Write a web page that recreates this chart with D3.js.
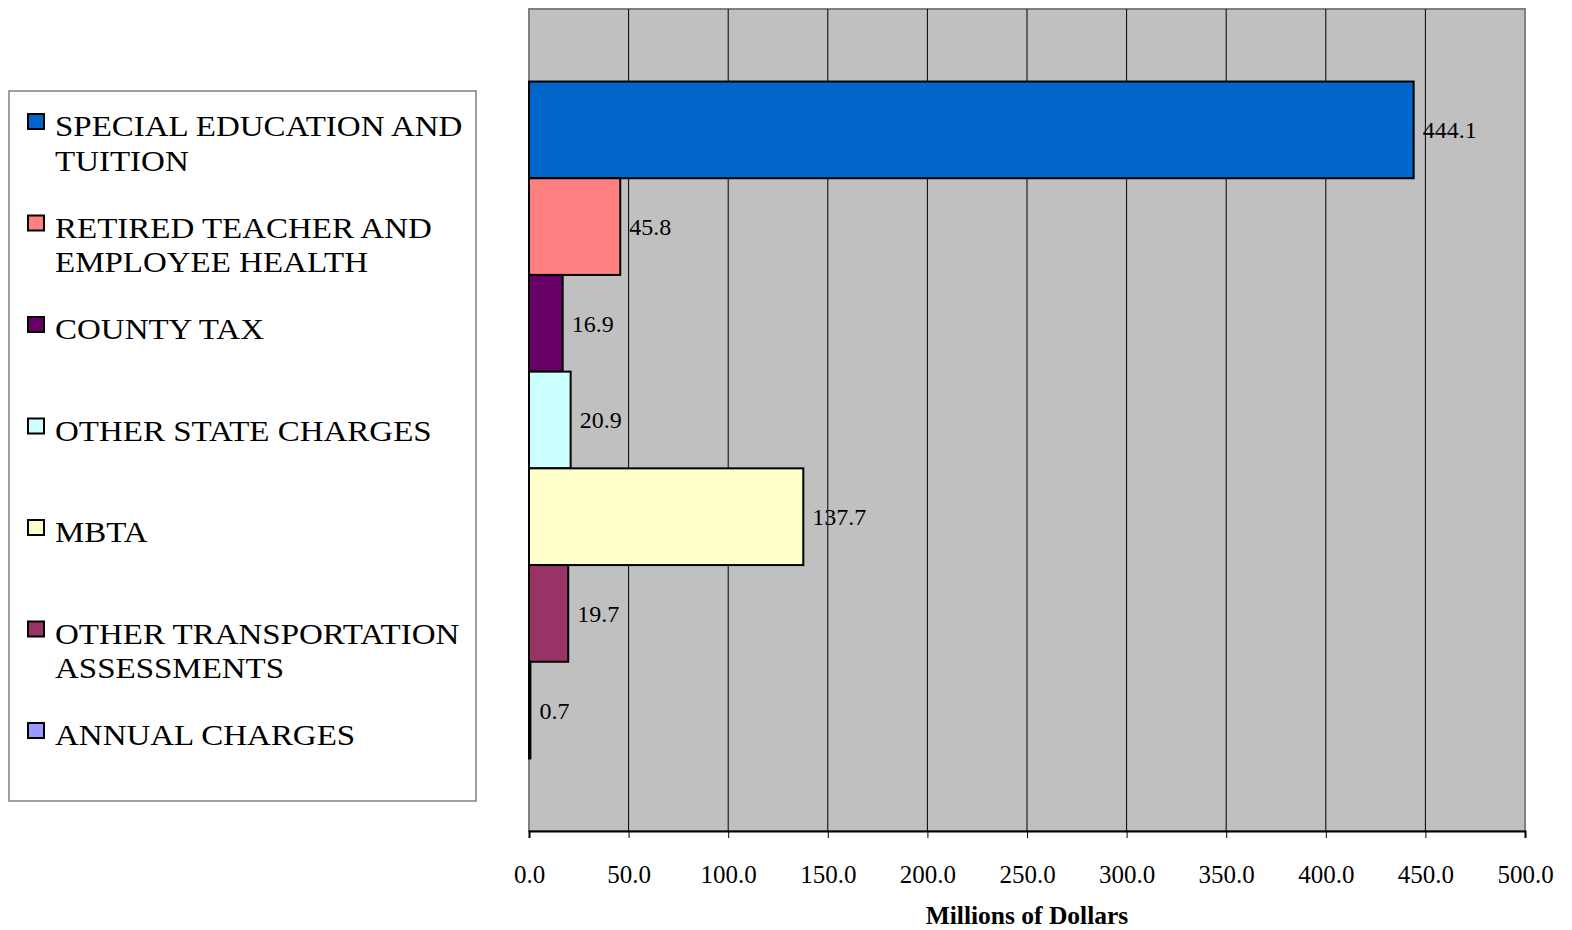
<html>
<head>
    <style>
        html, body { margin: 0; padding: 0; overflow: hidden; background: #fff; }
        svg { display: block; font-family: 'Liberation Serif', 'Times New Roman', serif; }
    </style>
</head>
<body>
<svg width='1572' height='930'></svg>
<script src='https://cdnjs.cloudflare.com/ajax/libs/d3/7.8.5/d3.min.js'></script>
<script>
    const categories = [
        'SPECIAL EDUCATION AND TUITION',
        'RETIRED TEACHER AND EMPLOYEE HEALTH',
        'COUNTY TAX',
        'OTHER STATE CHARGES',
        'MBTA',
        'OTHER TRANSPORTATION ASSESSMENTS',
        'ANNUAL CHARGES'
    ];
    const legendLines = [
        ['SPECIAL EDUCATION AND', 'TUITION'],
        ['RETIRED TEACHER AND', 'EMPLOYEE HEALTH'],
        ['COUNTY TAX'],
        ['OTHER STATE CHARGES'],
        ['MBTA'],
        ['OTHER TRANSPORTATION', 'ASSESSMENTS'],
        ['ANNUAL CHARGES']
    ];
    const values = [444.1, 45.8, 16.9, 20.9, 137.7, 19.7, 0.7];
    const colors = ['#0066CC', '#FF8080', '#660066', '#CCFFFF', '#FFFFCC', '#993366', '#9999FF'];
    const xTicks = [0, 50, 100, 150, 200, 250, 300, 350, 400, 450, 500];

    const svg = d3.select('svg');
    const plot = {left: 529, top: 9, right: 1525, bottom: 831};
    const barW = (plot.bottom - plot.top) / (categories.length + 1.5);
    const gap = barW * 0.75;

    const x = d3.scaleLinear().domain([0, 500]).range([plot.left, plot.right]);
    const y = d3.scaleBand().domain(categories)
        .range([plot.top + gap, plot.bottom - gap]).padding(0);

    // plot background
    svg.append('rect')
        .attr('x', plot.left).attr('y', plot.top)
        .attr('width', plot.right - plot.left).attr('height', plot.bottom - plot.top)
        .attr('fill', '#C0C0C0').attr('stroke', '#808080').attr('stroke-width', 2);

    // gridlines
    svg.append('g').selectAll('line').data(xTicks.slice(1, -1)).enter().append('line')
        .attr('x1', d => x(d)).attr('x2', d => x(d))
        .attr('y1', plot.top).attr('y2', plot.bottom)
        .attr('stroke', '#000').attr('stroke-width', 1);

    // bars
    svg.append('g').selectAll('rect').data(categories).enter().append('rect')
        .attr('x', x(0))
        .attr('y', d => y(d))
        .attr('width', (d, i) => x(values[i]) - x(0))
        .attr('height', y.bandwidth())
        .attr('fill', (d, i) => colors[i])
        .attr('stroke', '#000').attr('stroke-width', 2);

    // value labels
    svg.append('g').selectAll('text').data(categories).enter().append('text')
        .attr('x', (d, i) => x(values[i]) + 9)
        .attr('y', d => y(d) + y.bandwidth() / 2)
        .attr('dy', '0.35em')
        .attr('font-size', 24)
        .text((d, i) => values[i].toFixed(1));

    // x axis
    const axis = svg.append('g')
        .attr('transform', `translate(0,${plot.bottom})`)
        .call(d3.axisBottom(x).tickValues(xTicks).tickSize(7).tickPadding(27)
            .tickFormat(d => d.toFixed(1)));
    axis.select('.domain').attr('stroke', '#000').attr('stroke-width', 2);
    axis.selectAll('.tick line').attr('stroke', '#000');
    axis.selectAll('.tick text')
        .attr('font-family', "'Liberation Serif', serif")
        .attr('font-size', 25).attr('fill', '#000');

    svg.append('text')
        .attr('x', (plot.left + plot.right) / 2).attr('y', 924)
        .attr('text-anchor', 'middle')
        .attr('font-size', 25.5).attr('font-weight', 'bold')
        .text('Millions of Dollars');

    // legend
    const legend = svg.append('g');
    legend.append('rect')
        .attr('x', 9).attr('y', 91).attr('width', 467).attr('height', 710)
        .attr('fill', '#fff').attr('stroke', '#808080').attr('stroke-width', 1.5);

    const rowY = d3.scaleLinear().domain([0, categories.length - 1]).range([136, 745]);
    const item = legend.selectAll('g.item').data(categories).enter().append('g')
        .attr('class', 'item')
        .attr('transform', (d, i) => `translate(0,${rowY(i)})`);
    item.append('rect')
        .attr('x', 28).attr('y', -22).attr('width', 16).attr('height', 15)
        .attr('fill', (d, i) => colors[i]).attr('stroke', '#000').attr('stroke-width', 2);
    item.append('text')
        .attr('transform', 'translate(55,0) scale(1.1,1)')
        .attr('font-size', 30)
        .selectAll('tspan').data((d, i) => legendLines[i]).enter().append('tspan')
        .attr('x', 0)
        .attr('y', (d, j) => j * 35)
        .text(d => d);
</script>
</body>
</html>
